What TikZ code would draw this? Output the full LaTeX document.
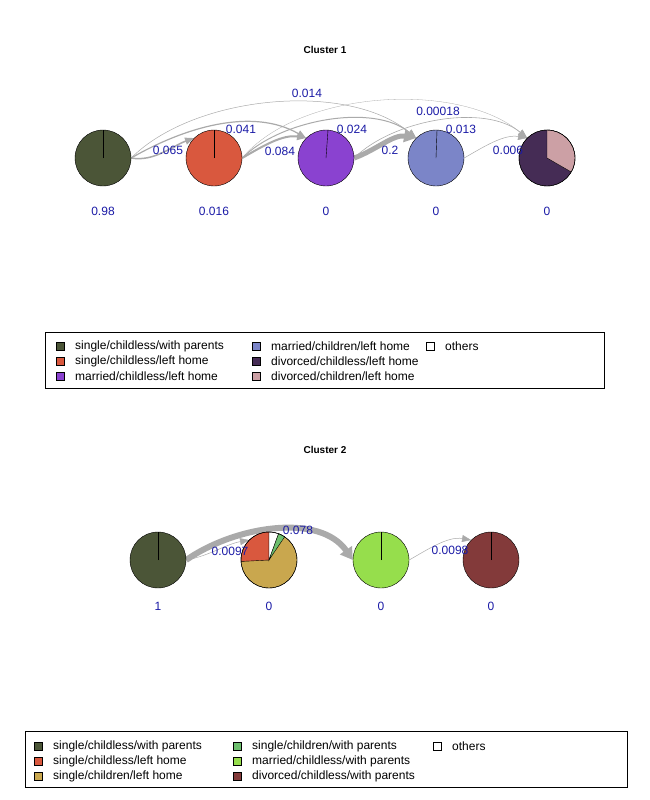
\documentclass[tikz,border=0pt]{standalone}
\usepackage{fontspec}
\setmainfont{Liberation Sans}
\usetikzlibrary{arrows.meta,calc}
\definecolor{cA}{HTML}{4B5537}
\definecolor{cB}{HTML}{D9583E}
\definecolor{cC}{HTML}{8A42D0}
\definecolor{cD}{HTML}{7B85C8}
\definecolor{cE}{HTML}{452C55}
\definecolor{cF}{HTML}{CCA0A5}
\definecolor{cG}{HTML}{C9A74E}
\definecolor{cH}{HTML}{6DBF6E}
\definecolor{cI}{HTML}{96DE4C}
\definecolor{cJ}{HTML}{833A3A}
\definecolor{lbl}{HTML}{1A1AA6}
\definecolor{edg}{HTML}{AAAAAA}
\begin{document}
\begin{tikzpicture}[x=1pt,y=-1pt,
  font=\fontsize{12}{14}\selectfont,
  st/.style={circle,minimum size=56pt,inner sep=0pt},
  val/.style={text=lbl},
  el/.style={text=lbl,inner sep=1pt},
  ed/.style={draw=edg,-{Triangle[length=9pt,width=7pt]}},
  sq/.style={draw,minimum size=8pt,inner sep=0pt},
  lt/.style={anchor=west,inner sep=0pt},
  ttl/.style={font=\fontsize{10}{12}\selectfont\bfseries}]
\useasboundingbox (0,0) rectangle (650,800);
\node[ttl] (t1) at (325,50) {Cluster 1};
\node[ttl] (t2) at (325,450) {Cluster 2};
% cluster 1 nodes (shapes)
\foreach \n/\x in {a/103,b/214,c/326,d/436,e/547}{\node[st] (\n) at (\x,158) {};}
% edges cluster 1
\draw[ed,line width=1.5pt] (a.east) to[out=-10,in=200,looseness=0.9] (b.north west);
\draw[ed,line width=1.2pt] (a.east) to[out=30,in=150,looseness=0.9] (c.north west);
\draw[ed,line width=0.5pt] (a.east) to[out=45,in=140,looseness=0.8] (d.north west);
\draw[ed,line width=2pt] (b.east) to[out=30,in=170,looseness=0.9] (c.north west);
\draw[ed,line width=1pt] (b.east) to[out=45,in=140,looseness=0.8] (d.north west);
\draw[ed,line width=0.3pt] (b.east) to[out=50,in=140,looseness=0.8] (e.north west);
\draw[ed,line width=5pt,-{Triangle[length=12pt,width=12pt]}] (c.east) to[out=20,in=170,looseness=0.9] (d.north west);
\draw[ed,line width=0.6pt] (c.east) to[out=45,in=140,looseness=0.8] (e.north west);
\draw[ed,line width=0.5pt] (d.east) to[out=30,in=170,looseness=0.9] (e.north west);
% pies cluster 1
\fill[cA,draw=black] (103,158) circle (28);
\draw (103,158) -- (103,130);
\fill[cB,draw=black] (214,158) circle (28);
\draw (214,158) -- (214,130);
\fill[cC,draw=black] (326,158) circle (28);
\draw (326,158) -- (328,130);
\fill[cD,draw=black] (436,158) circle (28);
\draw (436,158) -- (437,130);
\fill[cE,draw=black] (547,158) circle (28);
\fill[cF,draw=black] (547,158) -- (547,130) arc[start angle=-90,end angle=30,radius=28] -- cycle;
\draw (547,158) circle (28);
% edge labels cluster 1
\node[el] (l1) at (168,150) {0.065};
\node[el] (l2) at (241,129) {0.041};
\node[el] (l3) at (307,93) {0.014};
\node[el] (l4) at (280,151) {0.084};
\node[el] (l5) at (352,129) {0.024};
\node[el] (l6) at (438,111) {0.00018};
\node[el] (l7) at (390,150) {0.2};
\node[el] (l8) at (461,129) {0.013};
\node[el] (l9) at (508,150) {0.006};
\foreach \x/\v [count=\i] in {103/0.98,214/0.016,326/0,436/0,547/0}{\node[val] (v\i) at (\x,211) {\v};}
% legend 1
\node[draw,minimum width=559pt,minimum height=56pt,anchor=north west] (L1) at (45,332) {};
\node[sq,fill=cA] (s1) at (60,346) {}; \node[lt] (s1t) at (75,346) {single/childless/with parents};
\node[sq,fill=cB] (s2) at (60,361) {}; \node[lt] (s2t) at (75,361) {single/childless/left home};
\node[sq,fill=cC] (s3) at (60,376) {}; \node[lt] (s3t) at (75,376) {married/childless/left home};
\node[sq,fill=cD] (s4) at (256,346) {}; \node[lt] (s4t) at (271,346) {married/children/left home};
\node[sq,fill=cE] (s5) at (256,361) {}; \node[lt] (s5t) at (271,361) {divorced/childless/left home};
\node[sq,fill=cF] (s6) at (256,376) {}; \node[lt] (s6t) at (271,376) {divorced/children/left home};
\node[sq,fill=white] (s7) at (430,346) {}; \node[lt] (s7t) at (445,346) {others};
% cluster 2
\foreach \n/\x in {p/158,q/269,r/381,s/491}{\node[st] (\n) at (\x,560) {};}
\draw[ed,line width=6pt,-{Triangle[length=12pt,width=14pt]}] (p.east) to[out=35,in=125,looseness=0.9] (r.west);
\draw[ed,line width=0.5pt] (p.east) to[out=10,in=190,looseness=0.9] (q.north west);
\draw[ed,line width=0.5pt] (r.east) to[out=30,in=170,looseness=0.9] (s.north west);
\fill[cA,draw=black] (158,560) circle (28); \draw (158,560) -- (158,532);
\fill[cG,draw=black] (269,560) circle (28);
\fill[cB,draw=black] (269,560) -- (269,532) arc[start angle=-90,end angle=-183,radius=28] -- cycle;
\fill[white,draw=black] (269,560) -- (269,532) arc[start angle=-90,end angle=-70,radius=28] -- cycle;
\fill[cH,draw=black] (269,560) -- ($(269,560)+(-70:28)$) arc[start angle=-70,end angle=-56,radius=28] -- cycle;
\draw (269,560) circle (28);
\fill[cI,draw=black] (381,560) circle (28); \draw (381,560) -- (381,532);
\fill[cJ,draw=black] (491,560) circle (28); \draw (491,560) -- (491,532);
\node[el] (m1) at (230,551) {0.0097};
\node[el] (m2) at (298,530) {0.078};
\node[el] (m3) at (450,550) {0.0098};
\foreach \x/\v [count=\i] in {158/1,269/0,381/0,491/0}{\node[val] (w\i) at (\x,606) {\v};}
% legend 2
\node[draw,minimum width=602pt,minimum height=56pt,anchor=north west] (L2) at (25,731) {};
\node[sq,fill=cA] (u1) at (38,746) {}; \node[lt] (u1t) at (53,746) {single/childless/with parents};
\node[sq,fill=cB] (u2) at (38,761) {}; \node[lt] (u2t) at (53,761) {single/childless/left home};
\node[sq,fill=cG] (u3) at (38,776) {}; \node[lt] (u3t) at (53,776) {single/children/left home};
\node[sq,fill=cH] (u4) at (237,746) {}; \node[lt] (u4t) at (252,746) {single/children/with parents};
\node[sq,fill=cI] (u5) at (237,761) {}; \node[lt] (u5t) at (252,761) {married/childless/with parents};
\node[sq,fill=cJ] (u6) at (237,776) {}; \node[lt] (u6t) at (252,776) {divorced/childless/with parents};
\node[sq,fill=white] (u7) at (437,746) {}; \node[lt] (u7t) at (452,746) {others};
\end{tikzpicture}
\end{document}
